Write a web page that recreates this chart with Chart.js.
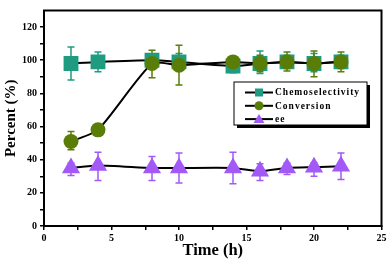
<!DOCTYPE html>
<html>
<head>
<meta charset="utf-8">
<script src="https://cdn.jsdelivr.net/npm/chart.js@4"></script>
<style>
  body { margin: 0; background: #fff; }
  #wrap { width: 392px; height: 264px; }
</style>
</head>
<body>
<div id="wrap"><canvas id="myChart" width="392" height="264"></canvas></div>
<script>
// data
const times = [2, 4, 8, 10, 14, 16, 18, 20, 22];

const chemo   = [98, 99, 100, 99, 96.5, 98, 99, 98, 99];
const chemoLo = [88, 93, 97, 95, 92.5, 92, 95, 93, 95];
const chemoHi = [108, 105, 103, 104, 99, 105.5, 103, 104, 103];

const conv   = [51, 58, 98, 97, 99, 98, 99, 98, 99];
const convLo = [46, 58, 89.5, 85, 96, 93, 93.5, 90, 93];
const convHi = [57, 58, 106, 109, 101, 103, 105, 105.5, 105];

const ee   = [35, 36.5, 35, 35, 35, 33, 35, 35.5, 36];
const eeLo = [30.5, 27.5, 27.5, 26, 25.5, 27.5, 31, 30, 28];
const eeHi = [38, 44.5, 42, 44, 44.5, 37.5, 38, 38, 44];

const names = ['Chemoselectivity', 'Conversion', 'ee'];
const colors = ['#1f9c80', '#5a7d08', '#a259f5'];

const serif = '"Liberation Serif", "Times New Roman", serif';

function pts(ys) {
    return times.map((t, i) => ({ x: t, y: ys[i] }));
}

// error bars through the scales
const errorBars = {
    id: 'errorBars',
    beforeDatasetsDraw(chart) {
        const { ctx, scales: { x, y } } = chart;
        const sets = [[chemoLo, chemoHi], [convLo, convHi], [eeLo, eeHi]];
        ctx.save();
        ctx.lineWidth = 1.5;
        sets.forEach((s, k) => {
            ctx.strokeStyle = colors[k];
            times.forEach((t, i) => {
                const px = x.getPixelForValue(t);
                const lo = y.getPixelForValue(s[0][i]);
                const hi = y.getPixelForValue(s[1][i]);
                if (Math.abs(lo - hi) < 1) return;
                ctx.beginPath();
                ctx.moveTo(px, lo); ctx.lineTo(px, hi);
                ctx.moveTo(px - 3.5, lo); ctx.lineTo(px + 3.5, lo);
                ctx.moveTo(px - 3.5, hi); ctx.lineTo(px + 3.5, hi);
                ctx.stroke();
            });
        });
        ctx.restore();
    }
};

// frame + legend box
const frameLegend = {
    id: 'frameLegend',
    afterDraw(chart) {
        const { ctx, chartArea: a } = chart;
        ctx.save();
        ctx.strokeStyle = '#000';
        ctx.lineWidth = 2;
        ctx.strokeRect(a.left, a.top, a.right - a.left, a.bottom - a.top);

        // legend
        const bx = 234, by = 82, bw = 133, bh = 43;
        ctx.fillStyle = '#000';
        ctx.fillRect(bx + 3, by + 3, bw, bh);
        ctx.fillStyle = '#fff';
        ctx.fillRect(bx, by, bw, bh);
        ctx.lineWidth = 1;
        ctx.strokeRect(bx, by, bw, bh);

        ctx.font = 'bold 9.5px ' + serif;
        ctx.letterSpacing = '1px';
        ctx.textBaseline = 'middle';
        names.forEach((n, i) => {
            const ly = 92.5 + i * 13.3;
            ctx.strokeStyle = '#000';
            ctx.lineWidth = 2;
            ctx.beginPath();
            ctx.moveTo(245, ly); ctx.lineTo(273, ly);
            ctx.stroke();
            ctx.fillStyle = colors[i];
            ctx.beginPath();
            if (i === 0) {
                ctx.rect(255, ly - 4, 8, 8);
            } else if (i === 1) {
                ctx.arc(259, ly, 4.5, 0, Math.PI * 2);
            } else {
                ctx.moveTo(259, ly - 5);
                ctx.lineTo(264.5, ly + 4);
                ctx.lineTo(253.5, ly + 4);
                ctx.closePath();
            }
            ctx.fill();
            ctx.fillStyle = '#000';
            ctx.fillText(n, 275, ly + 0.5);
        });
        ctx.restore();
    }
};

const data = {
    datasets: [
        { label: names[0], data: pts(chemo), order: 3, pointStyle: 'rect', pointRadius: 10.5 },
        { label: names[1], data: pts(conv), order: 2, pointStyle: 'circle', pointRadius: 7.5 },
        { label: names[2], data: pts(ee), order: 1, pointStyle: 'triangle', pointRadius: 10.5 }
    ].map((d, i) => Object.assign(d, {
        borderColor: '#000',
        borderWidth: 2,
        backgroundColor: colors[i],
        pointBackgroundColor: colors[i],
        pointBorderColor: colors[i],
        pointBorderWidth: 0,
        pointHoverRadius: d.pointRadius,
        tension: 0.2,
        fill: false
    }))
};

const tickFont = { family: serif, size: 10, weight: 'bold' };

const config = {
    type: 'line',
    data: data,
    options: {
        responsive: false,
        animation: false,
        layout: { padding: { top: 3, right: 7, left: 0, bottom: 0 } },
        plugins: {
            legend: { display: false },
            tooltip: { enabled: false }
        },
        scales: {
            x: {
                type: 'linear',
                min: 0,
                max: 25,
                afterFit: s => { s.height = 38; },
                ticks: {
                    stepSize: 2.5,
                    autoSkip: false,
                    maxRotation: 0,
                    color: '#000',
                    font: tickFont,
                    padding: 2,
                    callback: v => (v % 5 === 0 ? v : '')
                },
                grid: { drawOnChartArea: false, drawTicks: true, tickLength: 4, color: '#000', lineWidth: 1.5 },
                border: { color: '#000', width: 2 },
                title: {
                    display: true,
                    text: 'Time (h)',
                    color: '#000',
                    font: { family: serif, size: 16.5, weight: 'bold' },
                    padding: { top: 0, bottom: 3 }
                }
            },
            y: {
                min: 0,
                max: 130,
                afterFit: s => { s.width = 44; },
                afterBuildTicks: s => { s.ticks = s.ticks.filter(t => t.value <= 120); },
                ticks: {
                    stepSize: 10,
                    autoSkip: false,
                    color: '#000',
                    font: tickFont,
                    padding: 3,
                    callback: v => (v % 20 === 0 ? v : '')
                },
                grid: { drawOnChartArea: false, drawTicks: true, tickLength: 4, color: '#000', lineWidth: 1.5 },
                border: { color: '#000', width: 2 },
                title: {
                    display: true,
                    text: 'Percent (%)',
                    color: '#000',
                    font: { family: serif, size: 15, weight: 'bold' },
                    padding: { top: 2, bottom: 0 }
                }
            }
        }
    },
    plugins: [errorBars, frameLegend]
};

new Chart(document.getElementById('myChart'), config);
</script>
</body>
</html>
